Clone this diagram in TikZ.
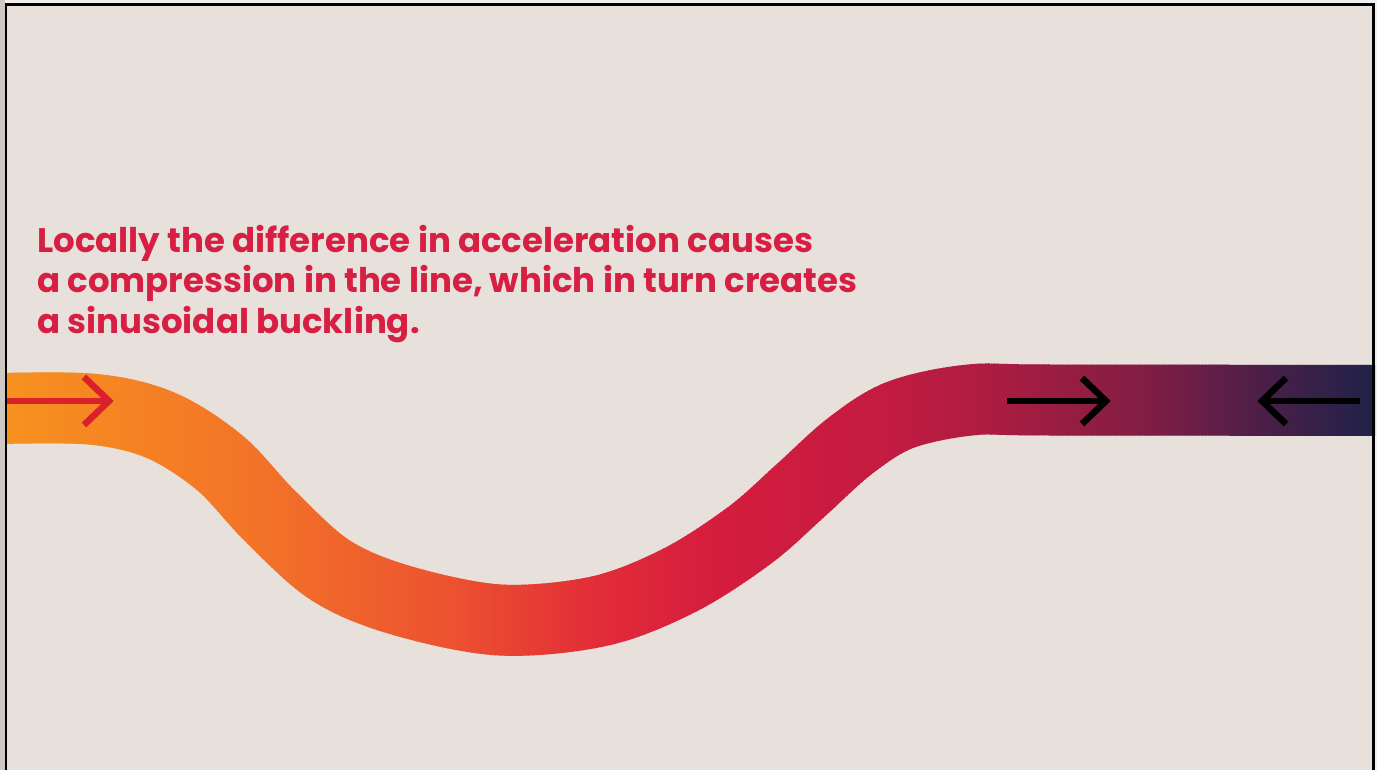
\documentclass[tikz,border=0pt]{standalone}
\usepackage{fontspec}
\setmainfont{Poppins}
\usetikzlibrary{calc}

% palette
\definecolor{paper}{HTML}{E8E1DB}
\definecolor{outerleft}{HTML}{CFC8C2}
\definecolor{outertop}{HTML}{F2F0EE}
\definecolor{headline}{HTML}{D61F42}
\definecolor{pushred}{HTML}{D9202C}
\definecolor{g0}{HTML}{F7911F}
\definecolor{g1}{HTML}{F37428}
\definecolor{g2}{HTML}{EC5230}
\definecolor{g3}{HTML}{E22C38}
\definecolor{g4}{HTML}{D41C3E}
\definecolor{g5}{HTML}{C41B41}
\definecolor{g6}{HTML}{A91D40}
\definecolor{g7}{HTML}{801D44}
\definecolor{g8}{HTML}{4C1F48}
\definecolor{g9}{HTML}{1F2249}

% centre line of the buckled rope
\def\ropeline{plot[smooth, tension=0.55] coordinates {
  (-20,409) (90,409) (160,425) (220,463) (270,516) (330,570) (400,600)
  (500,620) (600,611) (680,580) (750,535) (800,491) (850,446) (900,415)
  (970,400) (1050,400) (1400,400.5)}}

\tikzset{
  caption/.style={anchor=base west, inner sep=0pt, text=headline,
    font=\fontsize{34}{40}\selectfont\bfseries},
  arrowstroke/.style={line width=6.5pt, line join=miter, line cap=butt},
  rope/.style={line width=71pt},
}

\begin{document}
\begin{tikzpicture}[x=1pt, y=-1pt]
  \useasboundingbox (0,0) rectangle (1377,770);

  % surroundings and paper
  \fill[outertop] (0,0) rectangle (1377,770);
  \fill[outerleft] (0,0) rectangle (5,770);
  \fill[paper] (6,4.5) rectangle (1373.5,770);

  % the rope, painted in narrow vertical slices so its colour runs
  % from orange on the left to navy on the right
  \foreach \xa/\xb/\ca/\cb in {7/250/g0/g1, 250/450/g1/g2, 450/600/g2/g3,
      600/720/g3/g4, 720/880/g4/g5, 880/1000/g5/g6, 1000/1150/g6/g7,
      1150/1260/g7/g8, 1260/1375/g8/g9} {
    \pgfmathtruncatemacro\n{(\xb-\xa)/3}
    \pgfmathsetmacro\dw{(\xb-\xa)/\n}
    \foreach \i in {1,...,\n} {
      \pgfmathsetmacro\xl{\xa+(\i-1)*\dw}
      \pgfmathsetmacro\xr{min(\xa+\i*\dw+1,1375)}
      \pgfmathtruncatemacro\p{100*(\i-0.5)/\n}
      \begin{scope}
        \clip (\xl,300) rectangle (\xr,720);
        \draw[rope, \cb!\p!\ca] \ropeline;
      \end{scope}
    }
  }

  % pull at the left end
  \coordinate (ra) at (7,401);
  \coordinate (rb) at (109,401);
  \draw[arrowstroke, pushred] (ra) -- (rb);
  \draw[arrowstroke, pushred] (84,377) -- (rb) -- (84,425);

  % compression at the right end
  \coordinate (ba) at (1007,401);
  \coordinate (bb) at (1106,401);
  \draw[arrowstroke, black] (ba) -- (bb);
  \draw[arrowstroke, black] (1082,378) -- (bb) -- (1082,424);
  \coordinate (ca) at (1360,401);
  \coordinate (cb) at (1262,401);
  \draw[arrowstroke, black] (ca) -- (cb);
  \draw[arrowstroke, black] (1286,378) -- (cb) -- (1286,424);

  % explanation
  \node[caption] (t1) at (37,253) {Locally the difference in acceleration causes};
  \node[caption] (t2) at (37,293) {a compression in the line, which in turn creates};
  \node[caption] (t3) at (37,333) {a sinusoidal buckling.};

  % frame
  \draw[line width=2.8pt, black] (6,770) -- (6,4.5) -- (1373.8,4.5) -- (1373.8,770);
\end{tikzpicture}
\end{document}
